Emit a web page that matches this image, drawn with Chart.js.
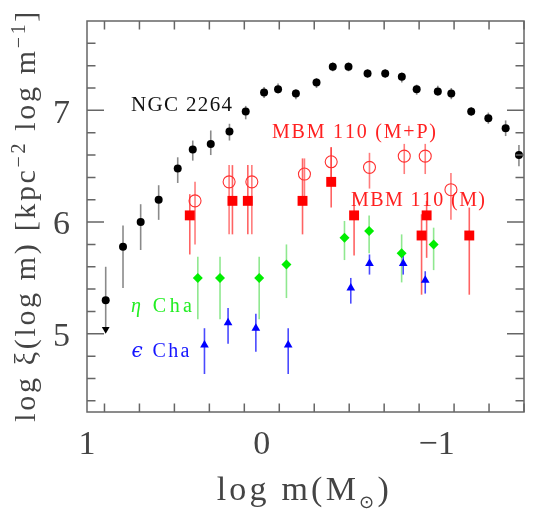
<!DOCTYPE html>
<html><head><meta charset="utf-8">
<script src="https://cdn.jsdelivr.net/npm/chart.js@4"></script>
<style>html,body{margin:0;padding:0;background:#fff}canvas{display:block}</style>
</head><body>
<canvas id="c" width="553" height="511"></canvas>
<script>
// NGC 2264 (black)
const ngcX  = [0.893, 0.794, 0.693, 0.590, 0.481, 0.395, 0.292, 0.185, 0.092, -0.013, -0.093, -0.195, -0.313, -0.406, -0.496, -0.605, -0.706, -0.801, -0.886, -1.007, -1.084, -1.198, -1.296, -1.395, -1.471];
const ngcY  = [5.30, 5.78, 6.00, 6.20, 6.48, 6.65, 6.70, 6.81, 6.99, 7.16, 7.19, 7.15, 7.25, 7.39, 7.39, 7.33, 7.33, 7.30, 7.19, 7.17, 7.15, 6.99, 6.93, 6.84, 6.60];
const ngcLo = [5.04, 5.41, 5.75, 6.02, 6.35, 6.55, 6.60, 6.73, 6.92, 7.11, 7.15, 7.10, 7.20, 7.35, 7.35, 7.29, 7.29, 7.25, 7.14, 7.13, 7.10, 6.95, 6.88, 6.77, 6.50];
const ngcHi = [5.60, 5.97, 6.16, 6.33, 6.58, 6.73, 6.82, 6.88, 7.04, 7.21, 7.24, 7.19, 7.29, 7.43, 7.43, 7.37, 7.37, 7.34, 7.23, 7.22, 7.20, 7.03, 6.98, 6.91, 6.69];
const ngcLimitX = [0.893];
const ngcLimitY = [5.04];
// MBM 110 (M) filled squares
const mX  = [0.412, 0.168, 0.080, -0.233, -0.397, -0.528, -0.914, -0.943, -1.187];
const mY  = [6.06, 6.19, 6.19, 6.19, 6.36, 6.06, 5.88, 6.06, 5.88];
const mLo = [5.71, 5.89, 5.89, 5.89, 6.13, 5.70, 5.35, 5.68, 5.35];
const mHi = [6.25, 6.51, 6.51, 6.57, 6.67, 6.25, 6.07, 6.19, 6.13];
// MBM 110 (M+P) open circles
const mpX  = [0.382, 0.187, 0.057, -0.244, -0.397, -0.616, -0.815, -0.935, -1.082];
const mpY  = [6.19, 6.36, 6.36, 6.43, 6.54, 6.49, 6.59, 6.59, 6.29];
const mpLo = [5.80, 5.89, 5.89, 6.22, 6.37, 6.30, 6.43, 6.43, 6.02];
const mpHi = [6.36, 6.51, 6.51, 6.57, 6.67, 6.62, 6.70, 6.70, 6.44];
// eta Cha (green)
const etaX  = [0.366, 0.239, 0.015, -0.141, -0.473, -0.614, -0.800, -0.983];
const etaY  = [5.50, 5.50, 5.50, 5.62, 5.86, 5.92, 5.72, 5.80];
const etaLo = [5.13, 5.13, 5.13, 5.32, 5.66, 5.72, 5.46, 5.57];
const etaHi = [5.69, 5.69, 5.69, 5.80, 6.01, 6.06, 5.89, 5.95];
// epsilon Cha (blue)
const epsX  = [0.328, 0.193, 0.034, -0.151, -0.509, -0.616, -0.809, -0.935];
const epsY  = [4.90, 5.10, 5.05, 4.90, 5.41, 5.63, 5.63, 5.48];
const epsLo = [4.64, 4.91, 4.84, 4.64, 5.27, 5.53, 5.53, 5.36];
const epsHi = [5.05, 5.23, 5.18, 5.05, 5.50, 5.71, 5.71, 5.56];
// axes
const xTickValues = [1, 0, -1];
const xTickLabels = ['1', '0', '\u22121'];
const yTickValues = [5, 6, 7];
const yTickLabels = ['5', '6', '7'];
const xRange = [-1.5, 1];
const yRange = [4.3, 7.8];

const pts = (xs, ys) => xs.map((v, i) => ({x: v, y: ys[i]}));

function drawRich(ctx, segs, x, y, target, color) {
  const chars = [];
  segs.forEach(s => { for (const ch of s.t) chars.push({ch, font: s.font, dy: s.dy || 0}); });
  let nat = 0;
  chars.forEach(c => { ctx.font = c.font; c.w = ctx.measureText(c.ch).width; nat += c.w; });
  const sp = chars.length > 1 ? (target - nat) / (chars.length - 1) : 0;
  let cx = x;
  ctx.fillStyle = color; ctx.textBaseline = 'alphabetic'; ctx.textAlign = 'left';
  chars.forEach(c => { ctx.font = c.font; ctx.fillText(c.ch, cx, y + c.dy); cx += c.w + sp; });
}

const errPlugin = {
  id: 'errbars',
  beforeDatasetsDraw(chart) {
    const {ctx, scales: {x, y}} = chart;
    chart.data.datasets.forEach(ds => {
      if (!ds.errLo) return;
      ctx.save();
      ctx.strokeStyle = ds.errColor; ctx.lineWidth = 1.6;
      ds.data.forEach((p, i) => {
        const px = x.getPixelForValue(p.x);
        ctx.beginPath();
        ctx.moveTo(px, y.getPixelForValue(ds.errLo[i]));
        ctx.lineTo(px, y.getPixelForValue(ds.errHi[i]));
        ctx.stroke();
      });
      ctx.restore();
    });
  }
};

const SERIF = "'Liberation Serif', 'DejaVu Serif', serif";
const framePlugin = {
  id: 'frame',
  afterDraw(chart) {
    const {ctx, chartArea: a, scales: {x, y}} = chart;
    ctx.save();
    ctx.strokeStyle = '#666'; ctx.lineWidth = 1.5;
    ctx.strokeRect(a.left, a.top, a.right - a.left, a.bottom - a.top);
    ctx.beginPath();
    for (let k = -15; k <= 10; k += 2) {
      const v = k / 10; const px = x.getPixelForValue(v);
      const major = Math.abs(v - Math.round(v)) < 1e-6;
      const L = major ? 17 : 8.5;
      ctx.moveTo(px, a.bottom); ctx.lineTo(px, a.bottom - L);
      ctx.moveTo(px, a.top); ctx.lineTo(px, a.top + L);
    }
    for (let k = 44; k <= 76; k += 2) {
      const v = k / 10; const py = y.getPixelForValue(v);
      const major = Math.abs(v - Math.round(v)) < 1e-6;
      const L = major ? 17 : 8.5;
      ctx.moveTo(a.left, py); ctx.lineTo(a.left + L, py);
      ctx.moveTo(a.right, py); ctx.lineTo(a.right - L, py);
    }
    ctx.stroke();
    // tick labels
    ctx.fillStyle = '#444';
    ctx.font = '34px ' + SERIF;
    ctx.textBaseline = 'alphabetic';
    ctx.textAlign = 'right';
    yTickValues.forEach((v, i) => ctx.fillText(yTickLabels[i], a.left - 17, y.getPixelForValue(v) + 12.3));
    ctx.textAlign = 'center';
    xTickValues.forEach((v, i) => ctx.fillText(xTickLabels[i], x.getPixelForValue(v), 454));
    // axis titles
    const big = '30px ' + SERIF, sup = '20px ' + SERIF;
    ctx.save();
    ctx.translate(35, 421.7); ctx.rotate(-Math.PI / 2);
    drawRich(ctx, [
      {t: 'log \u03be(log m) [kpc', font: big},
      {t: '\u22122', font: sup, dy: -10},
      {t: ' log m', font: big},
      {t: '\u22121', font: sup, dy: -10},
      {t: ']', font: big}
    ], 0, 0, 410, '#444');
    ctx.restore();
    drawRich(ctx, [
      {t: 'log m(M', font: '34px ' + SERIF},
      {t: '\u2299', font: "18px 'DejaVu Sans', sans-serif", dy: 8},
      {t: ')', font: '34px ' + SERIF}
    ], 216.7, 500, 172, '#444');
    // series labels
    const lab = '20px ' + SERIF;
    drawRich(ctx, [{t: 'NGC 2264', font: '21px ' + SERIF}], 131, 110.7, 101, '#111');
    drawRich(ctx, [{t: 'MBM 110 (M+P)', font: lab}], 272, 138, 164, '#ff2020');
    drawRich(ctx, [{t: 'MBM 110 (M)', font: lab}], 351, 205.7, 134, '#ff2020');
    drawRich(ctx, [{t: '\u03b7', font: 'italic 20px ' + SERIF}, {t: ' Cha', font: lab}], 131, 311.7, 61, '#22ee22');
    drawRich(ctx, [{t: '\u03f5', font: "italic 20px 'DejaVu Serif', serif"}, {t: ' Cha', font: lab}], 131.5, 356.7, 58, '#1515ff');
    ctx.restore();
  }
};

new Chart(document.getElementById('c'), {
  type: 'scatter',
  data: {
    datasets: [
      {label: 'NGC 2264', data: pts(ngcX, ngcY), errLo: ngcLo, errHi: ngcHi, errColor: '#8a8a8a',
       pointStyle: 'circle', pointRadius: 4, backgroundColor: '#000', borderWidth: 0},
      {label: 'NGC 2264 limit', data: pts(ngcLimitX, ngcLimitY),
       pointStyle: 'triangle', rotation: 180, pointRadius: 4.5, backgroundColor: '#000', borderColor: '#000', borderWidth: 0},
      {label: 'MBM 110 (M+P)', data: pts(mpX, mpY), errLo: mpLo, errHi: mpHi, errColor: 'rgba(255,80,80,0.75)',
       pointStyle: 'circle', pointRadius: 6, backgroundColor: 'rgba(0,0,0,0)', borderColor: '#ff3030', borderWidth: 1.1},
      {label: 'MBM 110 (M)', data: pts(mX, mY), errLo: mLo, errHi: mHi, errColor: 'rgba(255,60,60,0.8)',
       pointStyle: 'rect', pointRadius: 7, backgroundColor: '#ff0000', borderWidth: 0},
      {label: 'eta Cha', data: pts(etaX, etaY), errLo: etaLo, errHi: etaHi, errColor: '#8fe88f',
       pointStyle: 'rectRot', pointRadius: 5, backgroundColor: '#00ee00', borderWidth: 0},
      {label: 'eps Cha', data: pts(epsX, epsY), errLo: epsLo, errHi: epsHi, errColor: '#4a4aff',
       pointStyle: 'triangle', pointRadius: 5, backgroundColor: '#0000ff', borderWidth: 0}
    ]
  },
  options: {
    responsive: false,
    animation: false,
    layout: {padding: {left: 87, right: 29, top: 21, bottom: 99}},
    plugins: {legend: {display: false}, tooltip: {enabled: false}},
    scales: {
      x: {type: 'linear', min: xRange[0], max: xRange[1], reverse: true, display: false},
      y: {type: 'linear', min: yRange[0], max: yRange[1], display: false}
    }
  },
  plugins: [errPlugin, framePlugin]
});
</script>
</body></html>
